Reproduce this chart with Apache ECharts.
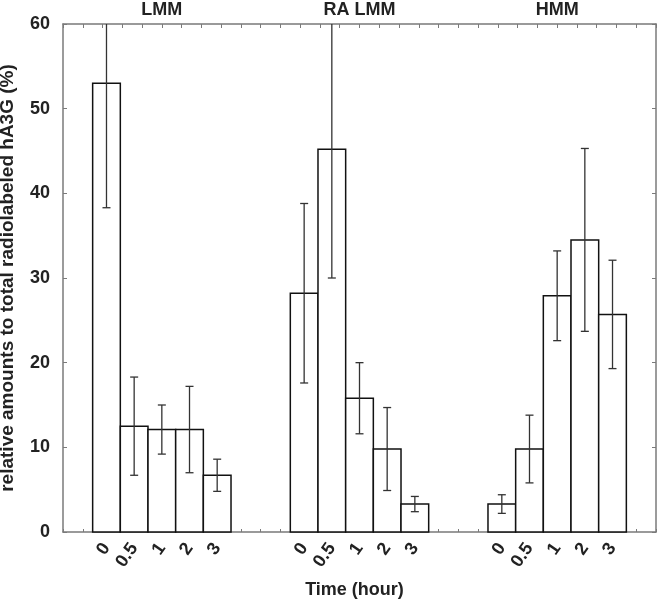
<!DOCTYPE html>
<html>
<head>
<meta charset="utf-8">
<script src="https://cdn.jsdelivr.net/npm/echarts@6/dist/echarts.min.js"></script>
<style>html,body{margin:0;padding:0;background:#fff;}#c{width:664px;height:600px;}</style>
</head>
<body>
<div id="c"></div>
<script>
// ---- data ----
var groups = ['LMM', 'RA LMM', 'HMM'];
var timeLabels = ['0', '0.5', '1', '2', '3'];
var meanLMM   = [53.0, 12.5, 12.1, 12.1, 6.7];
var errLMM    = [14.7, 5.8, 2.9, 5.1, 1.9];
var meanRALMM = [28.2, 45.2, 15.8, 9.8, 3.3];
var errRALMM  = [10.6, 15.2, 4.2, 4.9, 0.9];
var meanHMM   = [3.3, 9.8, 27.9, 34.5, 25.7];
var errHMM    = [1.1, 4.0, 5.3, 10.8, 6.4];
var yTicks = [0, 10, 20, 30, 40, 50, 60];

var means = [meanLMM, meanRALMM, meanHMM];
var errs = [errLMM, errRALMM, errHMM];

// ---- layout helpers ----
var GROUP_SPAN = 10, BAR_W = 1.4, YMAX = 60;
function barX(g, i) { return g * GROUP_SPAN + GROUP_SPAN / 2 + (i - 2) * BAR_W; }

var barData = [], centers = [], centerLabels = [];
for (var g = 0; g < groups.length; g++) {
  for (var i = 0; i < timeLabels.length; i++) {
    var x = barX(g, i);
    barData.push([x, means[g][i], errs[g][i]]);
    centers.push(x);
    centerLabels.push(timeLabels[i]);
  }
}
var groupCenters = groups.map(function (_, g) { return g * GROUP_SPAN + GROUP_SPAN / 2; });

function labelFor(v, list, labels) {
  for (var k = 0; k < list.length; k++) if (Math.abs(list[k] - v) < 1e-6) return labels[k];
  return '';
}

var axisGrey = '#7a7a7a';
var FONT = 'Liberation Sans';
var chart = echarts.init(document.getElementById('c'));
chart.setOption({
  animation: false,
  backgroundColor: '#fff',
  grid: { left: 63, right: 8, top: 24, bottom: 68, containLabel: false, outerBoundsMode: 'none' },
  xAxis: [{
    type: 'value', position: 'bottom', min: 0, max: 30, interval: 1,
    name: 'Time (hour)', nameLocation: 'middle', nameGap: 49,
    nameTextStyle: { fontFamily: FONT, fontWeight: 'bold', fontSize: 18, color: '#222', padding: [0, 10, 0, 0] },
    axisLine: { show: true, onZero: false, lineStyle: { color: axisGrey, width: 1.5 } },
    axisTick: { show: true, inside: true, length: 3, lineStyle: { color: axisGrey, width: 1 } },
    splitLine: { show: false },
    axisLabel: {
      customValues: centers, rotate: 55, margin: 13,
      fontFamily: FONT, fontWeight: 'bold', fontSize: 18, color: '#222',
      formatter: function (v) { return labelFor(v, centers, centerLabels); }
    }
  }, {
    type: 'value', position: 'top', min: 0, max: 30, interval: 1,
    axisLine: { show: true, onZero: false, lineStyle: { color: axisGrey, width: 1.5 } },
    axisTick: { show: true, inside: true, length: 4, lineStyle: { color: axisGrey, width: 1 } },
    splitLine: { show: false },
    axisLabel: {
      customValues: groupCenters, margin: 5,
      fontFamily: FONT, fontWeight: 'bold', fontSize: 18, color: '#222',
      formatter: function (v) { return labelFor(v, groupCenters, groups); }
    }
  }],
  yAxis: [{
    type: 'value', position: 'left', min: 0, max: YMAX, interval: 10,
    name: 'relative amounts to total radiolabeled hA3G (%)', nameLocation: 'middle', nameGap: 46,
    nameTextStyle: { fontFamily: FONT, fontWeight: 'bold', fontSize: 19, color: '#222' },
    axisLine: { show: true, onZero: false, lineStyle: { color: axisGrey, width: 1.5 } },
    axisTick: { show: true, inside: true, length: 4, lineStyle: { color: axisGrey, width: 1 } },
    splitLine: { show: false },
    axisLabel: {
      customValues: yTicks, margin: 13,
      fontFamily: FONT, fontWeight: 'bold', fontSize: 18, color: '#222'
    }
  }, {
    type: 'value', position: 'right', min: 0, max: YMAX, interval: 10,
    axisLine: { show: true, onZero: false, lineStyle: { color: axisGrey, width: 1.5 } },
    axisTick: { show: true, inside: true, length: 4, lineStyle: { color: axisGrey, width: 1 } },
    splitLine: { show: false },
    axisLabel: { show: false }
  }],
  series: [{
    type: 'custom', name: 'bars', xAxisIndex: 0, yAxisIndex: 0,
    data: barData,
    renderItem: function (params, api) {
      var x = api.value(0), m = api.value(1);
      var p0 = api.coord([x - BAR_W / 2, m]);
      var p1 = api.coord([x + BAR_W / 2, 0]);
      return {
        type: 'rect',
        shape: { x: p0[0], y: p0[1], width: p1[0] - p0[0], height: p1[1] - p0[1] },
        style: { fill: '#fff', stroke: '#111', lineWidth: 1.5 }
      };
    }
  }, {
    type: 'custom', name: 'errors', xAxisIndex: 0, yAxisIndex: 0,
    data: barData, z: 3,
    renderItem: function (params, api) {
      var x = api.value(0), m = api.value(1), e = api.value(2);
      var lo = m - e, hi = m + e;
      var hiClip = Math.min(hi, YMAX);
      var pLo = api.coord([x, lo]), pHi = api.coord([x, hiClip]);
      var cap = 4;
      var st = { stroke: '#333', lineWidth: 1.3 };
      var children = [
        { type: 'line', shape: { x1: pLo[0], y1: pLo[1], x2: pHi[0], y2: pHi[1] }, style: st },
        { type: 'line', shape: { x1: pLo[0] - cap, y1: pLo[1], x2: pLo[0] + cap, y2: pLo[1] }, style: st }
      ];
      if (hi <= YMAX) {
        children.push({ type: 'line', shape: { x1: pHi[0] - cap, y1: pHi[1], x2: pHi[0] + cap, y2: pHi[1] }, style: st });
      }
      return { type: 'group', children: children };
    }
  }]
});
</script>
</body>
</html>
